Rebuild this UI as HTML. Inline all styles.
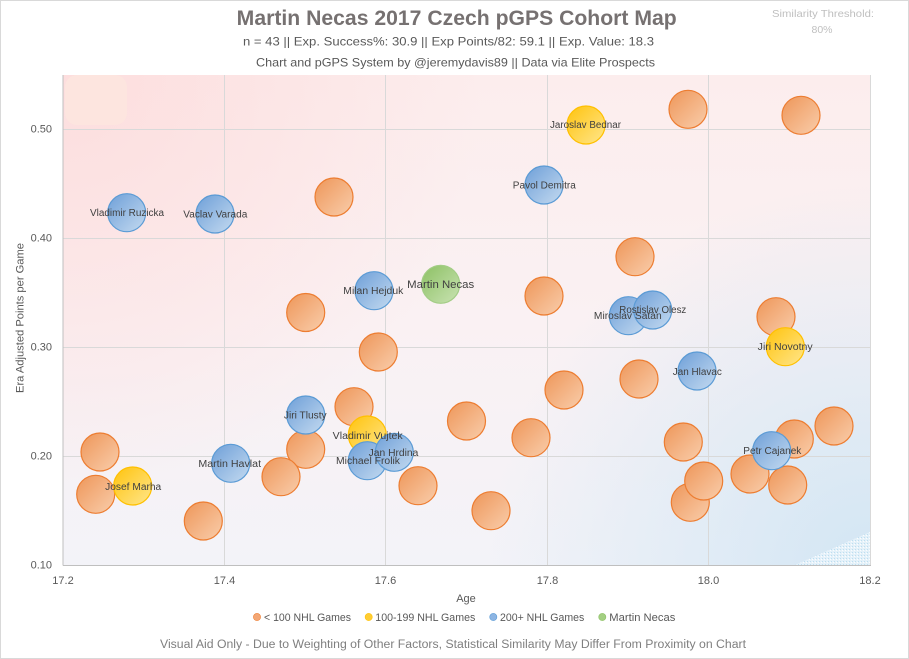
<!DOCTYPE html>
<html>
<head>
<meta charset="utf-8">
<style>
html,body{margin:0;padding:0;background:#fff;}
svg{display:block;}
text{font-family:"Liberation Sans",sans-serif;}
</style>
</head>
<body>
<svg width="909" height="659" viewBox="0 0 909 659" xmlns="http://www.w3.org/2000/svg">
<defs>
  <linearGradient id="bgv" x1="0" y1="0" x2="0" y2="1">
    <stop offset="0" stop-color="#FCEDED"/>
    <stop offset="0.5" stop-color="#FAF1F3"/>
    <stop offset="1" stop-color="#F3F3F8"/>
  </linearGradient>
  <radialGradient id="bgtl" cx="63" cy="75" r="420" gradientUnits="userSpaceOnUse">
    <stop offset="0" stop-color="#FDDCDC" stop-opacity="0.9"/>
    <stop offset="1" stop-color="#FDDCDC" stop-opacity="0"/>
  </radialGradient>
  <radialGradient id="bgbr" cx="870" cy="565" r="380" gradientUnits="userSpaceOnUse">
    <stop offset="0" stop-color="#D3E6F4" stop-opacity="1"/>
    <stop offset="1" stop-color="#D3E6F4" stop-opacity="0"/>
  </radialGradient>
  <linearGradient id="go" x1="0" y1="0" x2="1" y2="1">
    <stop offset="0" stop-color="#EE9659"/>
    <stop offset="1" stop-color="#F9CDAB"/>
  </linearGradient>
  <linearGradient id="gy" x1="0" y1="0" x2="1" y2="1">
    <stop offset="0" stop-color="#FFC30D"/>
    <stop offset="1" stop-color="#FFE68C"/>
  </linearGradient>
  <linearGradient id="gb" x1="0" y1="0" x2="1" y2="1">
    <stop offset="0" stop-color="#6E9FD8"/>
    <stop offset="1" stop-color="#C4DAF0"/>
  </linearGradient>
  <linearGradient id="gg" x1="0" y1="0" x2="1" y2="1">
    <stop offset="0" stop-color="#8CC063"/>
    <stop offset="1" stop-color="#C9E3B3"/>
  </linearGradient>
  <pattern id="dots" width="3" height="3" patternUnits="userSpaceOnUse">
    <rect width="3" height="3" fill="#E6F2FA"/>
    <rect x="0" y="0" width="1" height="1" fill="#B9DDF0"/>
    <rect x="2" y="1" width="1" height="1" fill="#FFFFFF"/>
  </pattern>
</defs>

<!-- outer -->
<rect x="0.5" y="0.5" width="908" height="658" fill="#fff" stroke="#D9D9D9" stroke-width="1"/>

<!-- plot background -->
<rect x="63" y="75" width="807" height="490" fill="url(#bgv)"/>
<rect x="63" y="75" width="807" height="490" fill="url(#bgtl)"/>
<rect x="63" y="75" width="807" height="490" fill="url(#bgbr)"/>
<rect x="65" y="75" width="62" height="50" rx="12" fill="#FDE6DE" opacity="0.8"/>
<polygon points="795,565 870,565 870,532" fill="url(#dots)" opacity="0.9"/>

<!-- gridlines -->
<g stroke="#D9D9D9" stroke-width="1">
  <line x1="224.5" y1="75" x2="224.5" y2="565"/>
  <line x1="385.5" y1="75" x2="385.5" y2="565"/>
  <line x1="547.5" y1="75" x2="547.5" y2="565"/>
  <line x1="708.5" y1="75" x2="708.5" y2="565"/>
  <line x1="870.5" y1="75" x2="870.5" y2="565"/>
  <line x1="63" y1="129.5" x2="870" y2="129.5"/>
  <line x1="63" y1="238.5" x2="870" y2="238.5"/>
  <line x1="63" y1="347.5" x2="870" y2="347.5"/>
  <line x1="63" y1="456.5" x2="870" y2="456.5"/>
</g>
<g stroke="#BFBFBF" stroke-width="1">
  <line x1="63" y1="75" x2="63" y2="565.5"/>
  <line x1="63" y1="565.5" x2="871" y2="565.5"/>
</g>

<!-- orange bubbles -->
<g fill="url(#go)" stroke="#ED7D31" stroke-width="1.2">
  <circle cx="334" cy="197" r="19"/>
  <circle cx="305.7" cy="312.5" r="19"/>
  <circle cx="688" cy="109.3" r="19"/>
  <circle cx="801" cy="115.3" r="19"/>
  <circle cx="635" cy="256.7" r="19"/>
  <circle cx="544" cy="296" r="19"/>
  <circle cx="776" cy="316.7" r="19"/>
  <circle cx="639" cy="379" r="19"/>
  <circle cx="564" cy="390" r="19"/>
  <circle cx="466.5" cy="421" r="19"/>
  <circle cx="531" cy="437.7" r="19"/>
  <circle cx="683.3" cy="442" r="19"/>
  <circle cx="794.3" cy="439" r="19"/>
  <circle cx="834" cy="426" r="19"/>
  <circle cx="750" cy="474" r="19"/>
  <circle cx="787.7" cy="485" r="19"/>
  <circle cx="690.3" cy="502.3" r="19"/>
  <circle cx="703.7" cy="481" r="19"/>
  <circle cx="491" cy="510.7" r="19"/>
  <circle cx="378.3" cy="352" r="19"/>
  <circle cx="354" cy="406.7" r="19"/>
  <circle cx="305.7" cy="449.3" r="19"/>
  <circle cx="281" cy="476.7" r="19"/>
  <circle cx="418" cy="485.7" r="19"/>
  <circle cx="100" cy="452" r="19"/>
  <circle cx="95.7" cy="494.3" r="19"/>
  <circle cx="203.3" cy="521" r="19"/>
</g>

<!-- yellow bubbles -->
<g fill="url(#gy)" stroke="#FFC000" stroke-width="1.2">
  <circle cx="586" cy="125" r="19"/>
  <circle cx="785.3" cy="346.7" r="19"/>
  <circle cx="367.3" cy="435" r="19"/>
  <circle cx="132.7" cy="486" r="19"/>
</g>

<!-- blue bubbles -->
<g fill="url(#gb)" stroke="#5B9BD5" stroke-width="1.2">
  <circle cx="126.7" cy="212.7" r="19"/>
  <circle cx="215" cy="214" r="19"/>
  <circle cx="374" cy="290.7" r="19"/>
  <circle cx="544" cy="185" r="19"/>
  <circle cx="628.3" cy="315.7" r="19"/>
  <circle cx="652.7" cy="310" r="19"/>
  <circle cx="697" cy="371" r="19"/>
  <circle cx="771.7" cy="450.7" r="19"/>
  <circle cx="305.7" cy="415" r="19"/>
  <circle cx="367.3" cy="460.7" r="19"/>
  <circle cx="394.3" cy="452.3" r="19"/>
  <circle cx="230.7" cy="463.3" r="19"/>
</g>

<!-- green bubble -->
<circle cx="440.7" cy="284.3" r="19" fill="url(#gg)" stroke="#A3CD86" stroke-width="1.2"/>

<!-- bubble labels -->
<g font-size="10" fill="#404040" text-anchor="middle" lengthAdjust="spacingAndGlyphs">
  <text x="127" y="216.2" textLength="74" lengthAdjust="spacingAndGlyphs">Vladimir Ruzicka</text>
  <text x="215.3" y="217.5" textLength="64" lengthAdjust="spacingAndGlyphs">Vaclav Varada</text>
  <text x="373.3" y="293.8" textLength="60" lengthAdjust="spacingAndGlyphs">Milan Hejduk</text>
  <text x="585.5" y="128.2" textLength="71" lengthAdjust="spacingAndGlyphs">Jaroslav Bednar</text>
  <text x="544.3" y="188.5" textLength="63" lengthAdjust="spacingAndGlyphs">Pavol Demitra</text>
  <text x="627.8" y="319.2" textLength="67.7" lengthAdjust="spacingAndGlyphs">Miroslav Satan</text>
  <text x="652.8" y="313.2" textLength="67" lengthAdjust="spacingAndGlyphs">Rostislav Olesz</text>
  <text x="785.2" y="350.2" textLength="55" lengthAdjust="spacingAndGlyphs">Jiri Novotny</text>
  <text x="697.3" y="375.2" textLength="49" lengthAdjust="spacingAndGlyphs">Jan Hlavac</text>
  <text x="772.3" y="454.2" textLength="58" lengthAdjust="spacingAndGlyphs">Petr Cajanek</text>
  <text x="305.3" y="418.5" textLength="42.7" lengthAdjust="spacingAndGlyphs">Jiri Tlusty</text>
  <text x="367.7" y="439.2" textLength="70" lengthAdjust="spacingAndGlyphs">Vladimir Vujtek</text>
  <text x="393.5" y="456.2" textLength="49.7" lengthAdjust="spacingAndGlyphs">Jan Hrdina</text>
  <text x="368" y="464.2" textLength="64" lengthAdjust="spacingAndGlyphs">Michael Frolik</text>
  <text x="229.7" y="467.2" textLength="62.7" lengthAdjust="spacingAndGlyphs">Martin Havlat</text>
  <text x="133.2" y="489.8" textLength="56" lengthAdjust="spacingAndGlyphs">Josef Marha</text>
</g>
<text x="440.7" y="287.8" font-size="11" fill="#404040" text-anchor="middle" textLength="67" lengthAdjust="spacingAndGlyphs">Martin Necas</text>

<!-- y tick labels -->
<g font-size="11" fill="#595959" text-anchor="end">
  <text x="52" y="132.5">0.50</text>
  <text x="52" y="241.5">0.40</text>
  <text x="52" y="350.5">0.30</text>
  <text x="52" y="459.5">0.20</text>
  <text x="52" y="568.5">0.10</text>
</g>
<!-- x tick labels -->
<g font-size="11" fill="#595959" text-anchor="middle">
  <text x="63" y="584">17.2</text>
  <text x="224.5" y="584">17.4</text>
  <text x="385.5" y="584">17.6</text>
  <text x="547.5" y="584">17.8</text>
  <text x="708.5" y="584">18.0</text>
  <text x="870" y="584">18.2</text>
</g>

<!-- axis titles -->
<text x="466" y="602" font-size="11" fill="#595959" text-anchor="middle">Age</text>
<text transform="translate(23.5,318) rotate(-90)" font-size="11" fill="#595959" text-anchor="middle" textLength="150" lengthAdjust="spacingAndGlyphs">Era Adjusted Points per Game</text>

<!-- title block -->
<text x="236.7" y="25" font-size="21" font-weight="bold" fill="#767171" textLength="440" lengthAdjust="spacingAndGlyphs">Martin Necas 2017 Czech pGPS Cohort Map</text>
<text x="243" y="45.7" font-size="12" fill="#595959" textLength="411" lengthAdjust="spacingAndGlyphs">n = 43 || Exp. Success%: 30.9 || Exp Points/82: 59.1 || Exp. Value: 18.3</text>
<text x="256" y="66.5" font-size="12" fill="#595959" textLength="399" lengthAdjust="spacingAndGlyphs">Chart and pGPS System by @jeremydavis89 || Data via Elite Prospects</text>
<text x="772" y="17" font-size="10.5" fill="#BFBFBF" textLength="102" lengthAdjust="spacingAndGlyphs">Similarity Threshold:</text>
<text x="822" y="33" font-size="10.5" fill="#BFBFBF" text-anchor="middle">80%</text>

<!-- legend -->
<circle cx="257" cy="617" r="3.6" fill="#F3A775" stroke="#ED7D31" stroke-width="0.6"/>
<text x="264" y="621" font-size="11" fill="#595959" textLength="87" lengthAdjust="spacingAndGlyphs">&lt; 100 NHL Games</text>
<circle cx="368.7" cy="617" r="3.6" fill="#FFCD33" stroke="#FFC000" stroke-width="0.6"/>
<text x="375.3" y="621" font-size="11" fill="#595959" textLength="100" lengthAdjust="spacingAndGlyphs">100-199 NHL Games</text>
<circle cx="493.3" cy="617" r="3.6" fill="#8DB5E3" stroke="#5B9BD5" stroke-width="0.6"/>
<text x="500" y="621" font-size="11" fill="#595959" textLength="84.3" lengthAdjust="spacingAndGlyphs">200+ NHL Games</text>
<circle cx="602.3" cy="617" r="3.6" fill="#A3CF82" stroke="#8CC063" stroke-width="0.6"/>
<text x="609.3" y="621" font-size="11" fill="#595959" textLength="66" lengthAdjust="spacingAndGlyphs">Martin Necas</text>

<!-- footer -->
<text x="160" y="648" font-size="11.5" fill="#7F7F7F" textLength="586" lengthAdjust="spacingAndGlyphs">Visual Aid Only - Due to Weighting of Other Factors, Statistical Similarity May Differ From Proximity on Chart</text>
</svg>
</body>
</html>
